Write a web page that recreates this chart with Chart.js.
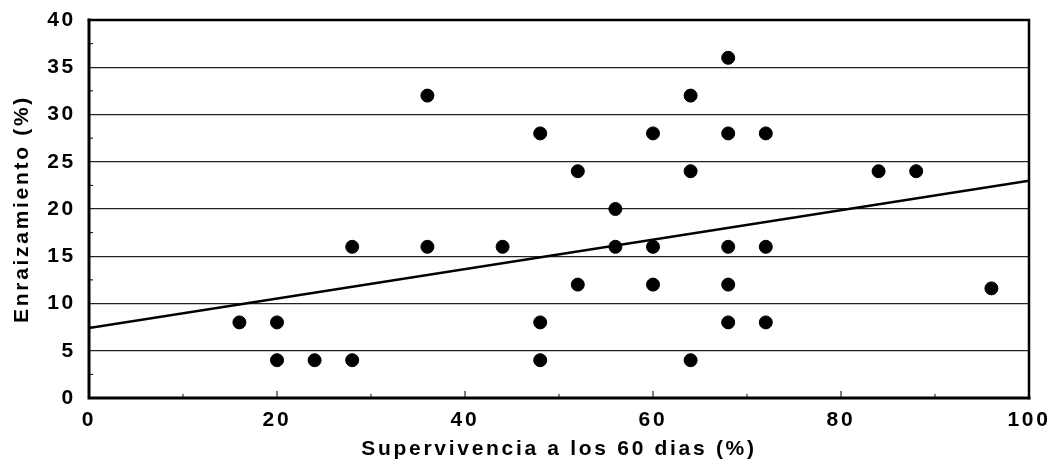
<!DOCTYPE html>
<html lang="es">
<head>
<meta charset="UTF-8">
<title>Enraizamiento vs supervivencia</title>
<style>
  html, body { margin: 0; padding: 0; background: #fff; }
  #wrap { width: 1052px; height: 464px; }
</style>
</head>
<body>
<div id="wrap"><canvas id="chart"></canvas></div>
<script src="https://cdn.jsdelivr.net/npm/chart.js"></script>
<script>
// datos
const supervivencia = [16, 20, 20, 24, 28, 28, 36, 36, 44, 48, 48, 48, 52, 52, 56, 56, 60, 60, 60,
                       64, 64, 64, 68, 68, 68, 68, 68, 72, 72, 72, 84, 88, 96];
const enraizamiento = [8, 8, 4, 4, 4, 16, 32, 16, 16, 28, 8, 4, 24, 12, 20, 16, 28, 16, 12,
                       32, 24, 4, 36, 28, 16, 12, 8, 28, 16, 8, 24, 24, 11.6];
// recta de tendencia (extremos leidos)
const tendenciaX = [0, 100];
const tendenciaY = [7.4, 23];
const xTicks = [0, 20, 40, 60, 80, 100];
const yTicks = [0, 5, 10, 15, 20, 25, 30, 35, 40];

const puntos = supervivencia.map((x, i) => ({ x: x, y: enraizamiento[i] }));
const recta = tendenciaX.map((x, i) => ({ x: x, y: tendenciaY[i] }));

const FONT = { family: "'Liberation Sans', Arial, sans-serif", size: 21, weight: 'bold' };
const ESPACIADO = '2.7px';

// marco, marcas interiores y espaciado de letras
const marco = {
  id: 'marco',
  beforeLayout(chart) { chart.ctx.letterSpacing = ESPACIADO; },
  beforeDraw(chart) { chart.ctx.letterSpacing = ESPACIADO; },
  afterDraw(chart) {
    const ctx = chart.ctx;
    const a = chart.chartArea;
    const sx = chart.scales.x, sy = chart.scales.y;
    ctx.save();
    ctx.strokeStyle = '#000';
    // marcas menores del eje y
    ctx.lineWidth = 1;
    for (let v = 2.5; v < 40; v += 5) {
      const y = sy.getPixelForValue(v);
      ctx.beginPath(); ctx.moveTo(a.left, y); ctx.lineTo(a.left + 4, y); ctx.stroke();
    }
    // marcas del eje x
    for (let v = 10; v < 100; v += 10) {
      const x = sx.getPixelForValue(v);
      const len = v % 20 === 0 ? 7 : 4;
      ctx.beginPath(); ctx.moveTo(x, a.bottom); ctx.lineTo(x, a.bottom - len); ctx.stroke();
    }
    ctx.lineCap = 'square';
    ctx.lineWidth = 2.5;
    ctx.beginPath();
    ctx.moveTo(a.left, a.top); ctx.lineTo(a.right, a.top); ctx.lineTo(a.right, a.bottom);
    ctx.stroke();
    ctx.lineWidth = 3;
    ctx.beginPath();
    ctx.moveTo(a.left, a.top); ctx.lineTo(a.left, a.bottom); ctx.lineTo(a.right, a.bottom);
    ctx.stroke();
    ctx.restore();
  }
};

new Chart(document.getElementById('chart'), {
  type: 'scatter',
  data: {
    datasets: [
      {
        label: 'Observaciones',
        data: puntos,
        backgroundColor: '#000',
        borderColor: '#000',
        pointRadius: 6.5,
        pointHoverRadius: 6.5
      },
      {
        type: 'line',
        label: 'Tendencia',
        data: recta,
        borderColor: '#000',
        borderWidth: 2.5,
        pointRadius: 0,
        fill: false
      }
    ]
  },
  options: {
    responsive: true,
    maintainAspectRatio: false,
    animation: false,
    events: [],
    layout: { padding: { top: 20, right: 23, bottom: 0, left: 0 } },
    plugins: { legend: { display: false }, tooltip: { enabled: false } },
    scales: {
      x: {
        type: 'linear',
        min: 0, max: 100,
        afterFit: s => { s.height = 66; s.paddingLeft = 0; s.paddingRight = 0; },
        afterBuildTicks: s => { s.ticks = xTicks.map(v => ({ value: v })); },
        grid: { display: false, drawTicks: false },
        border: { display: false },
        ticks: { color: '#000', font: FONT, padding: 10 },
        title: {
          display: true,
          text: 'Supervivencia a los 60 dias (%)',
          color: '#000',
          font: FONT,
          padding: { top: 0, bottom: 2 }
        }
      },
      y: {
        type: 'linear',
        min: 0, max: 40,
        afterFit: s => { s.width = 89; s.paddingTop = 0; s.paddingBottom = 0; },
        afterBuildTicks: s => { s.ticks = yTicks.map(v => ({ value: v })); },
        grid: {
          drawTicks: false,
          lineWidth: 1.2,
          color: c => (c.tick.value === 0 || c.tick.value === 40) ? 'rgba(0,0,0,0)' : '#222'
        },
        border: { display: false },
        ticks: { color: '#000', font: FONT, padding: 13 },
        title: {
          display: true,
          text: 'Enraizamiento (%)',
          color: '#000',
          font: FONT,
          padding: { top: 10, bottom: 0 }
        }
      }
    }
  },
  plugins: [marco]
});
</script>
</body>
</html>
